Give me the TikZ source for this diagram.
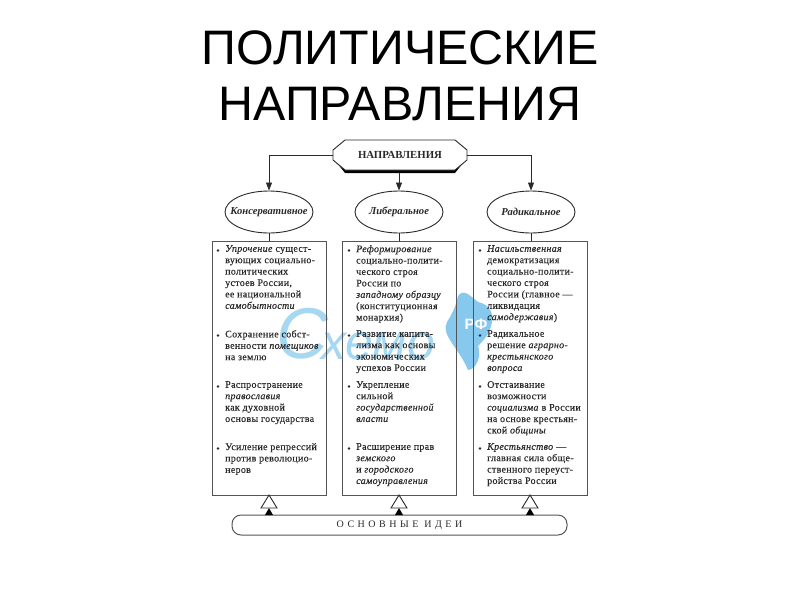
\documentclass[tikz,border=0pt]{standalone}
\usepackage{fontspec}
\setmainfont{Liberation Serif}
\newfontfamily\sansf{Liberation Sans}
\usetikzlibrary{arrows.meta,shapes.geometric,shadows}
\definecolor{ink}{HTML}{2A2A2A}
\definecolor{wm}{HTML}{A6D8F2}
\definecolor{wmblob}{HTML}{86C8EE}
\newcommand{\I}[1]{\textit{#1}}
\newcommand{\bt}[2]{\node[bulletdot] at (#1-7,#2+5.5) {};}
\newcommand{\ov}[1]{\makebox[0pt]{#1}}
\tikzset{
  lineT/.style={draw=ink,line width=0.9pt},
  conn/.style={draw=ink,line width=0.8pt},
  tip/.style={conn,-{Triangle[length=8pt,width=6pt,fill=ink]}},
  oval/.style={ellipse,draw=ink,line width=0.9pt,fill=white,minimum width=88pt,minimum height=42pt,inner sep=0pt,font=\fontsize{10.6}{12}\selectfont\bfseries\itshape,text=ink},
  panel/.style={draw=ink!80,line width=1pt,fill=none},
  itemtext/.style={anchor=north west,inner sep=0pt,align=left,text=ink,font=\fontsize{10}{11.4}\selectfont\addfontfeatures{LetterSpace=3,FakeBold=0.25}},
  bulletdot/.style={circle,fill=ink,inner sep=0pt,minimum size=2.6pt},
  hollow/.style={draw=ink,line width=0.9pt,fill=white,line join=miter},
  solidtri/.style={fill=black,draw=none},
}
\begin{document}
\begin{tikzpicture}[x=1pt,y=-1pt]
\useasboundingbox (0,0) rectangle (800,600);
\fill[white] (0,0) rectangle (800,600);
% title
\node[font=\sansf\fontsize{48.4}{56}\selectfont,align=center,text=black,inner sep=0pt] (title) at (400,76) {ПОЛИТИЧЕСКИЕ\\НАПРАВЛЕНИЯ};
% watermark
\node[font=\sansf\itshape\fontsize{72}{72}\selectfont,text=wm,inner sep=0pt] (wmc) at (302,334) {С};
\node[font=\sansf\itshape\fontsize{50}{50}\selectfont,text=wm,inner sep=0pt] (wmrest) at (378,346) {хемо};
\fill[wmblob] (447,322) .. controls (452,314) and (456,306) .. (458,296) .. controls (464,288) and (470,296) .. (478,302) .. controls (488,304) and (494,312) .. (492,322) .. controls (490,334) and (484,340) .. (478,346) .. controls (482,356) and (476,370) .. (468,370) .. controls (462,356) and (456,350) .. (450,340) .. controls (446,334) and (444,328) .. (447,322) -- cycle;
\node[font=\sansf\bfseries\fontsize{15}{15}\selectfont,text=white,inner sep=0pt] (wmrf) at (476,324) {РФ};
% header
\fill[black] (333,158) -- (345,173) -- (455,173) -- (467,158) -- cycle;
\draw[lineT,fill=white] (345,140) -- (455,140) -- (467,150) -- (467,160) -- (455,170) -- (345,170) -- (333,160) -- (333,150) -- cycle;
\coordinate (hl) at (333,155);
\coordinate (hr) at (467,155);
\coordinate (hb) at (399,173);
\node[font=\fontsize{10.8}{12}\selectfont\bfseries,text=ink,inner sep=0pt] (head) at (400,155) {НАПРАВЛЕНИЯ};
% ovals
\node[oval] (o1) at (269,212) {\ov{Консервативное}};
\node[oval] (o2) at (399,212) {\ov{Либеральное}};
\node[oval] (o3) at (531,212) {\ov{Радикальное}};
\draw[tip] (hl) -| (o1.north);
\draw[tip] (hb) -- (o2.north);
\draw[tip] (hr) -| (o3.north);
% panels
\node[panel,minimum width=114pt,minimum height=254pt,inner sep=0pt] (p1) at (269,368) {};
\node[panel,minimum width=114pt,minimum height=254pt,inner sep=0pt] (p2) at (399,368) {};
\node[panel,minimum width=114pt,minimum height=254pt,inner sep=0pt] (p3) at (530,368) {};
\draw[conn] (o1.south) -- (o1.south |- p1.north);
\draw[conn] (o2.south) -- (o2.south |- p2.north);
\draw[conn] (o3.south) -- (o3.south |- p3.north);
% left
\bt{225}{245}\node[itemtext] (a1) at (225,245) {\I{Упрочение} сущест-\\вующих социально-\\политических\\устоев России,\\ее национальной\\\I{самобытности}};
\bt{225}{330}\node[itemtext] (a2) at (225,330) {Сохранение собст-\\венности \I{помещиков}\\на землю};
\bt{225}{381}\node[itemtext] (a3) at (225,381) {Распространение\\\I{православия}\\как духовной\\основы государства};
\bt{225}{443}\node[itemtext] (a4) at (225,443) {Усиление репрессий\\против революцио-\\неров};
% middle
\bt{356}{245}\node[itemtext] (b1) at (356,245) {\I{Реформирование}\\социально-полити-\\ческого строя\\России по\\\I{западному образцу}\\(конституционная\\монархия)};
\bt{356}{330}\node[itemtext] (b2) at (356,330) {Развитие капита-\\лизма как основы\\экономических\\успехов России};
\bt{356}{381}\node[itemtext] (b3) at (356,381) {Укрепление\\сильной\\\I{государственной}\\\I{власти}};
\bt{356}{443}\node[itemtext] (b4) at (356,443) {Расширение прав\\\I{земского}\\и \I{городского}\\\I{самоуправления}};
% right
\bt{487}{245}\node[itemtext] (c1) at (487,245) {\I{Насильственная}\\демократизация\\социально-полити-\\ческого строя\\России (главное —\\ликвидация\\\I{самодержавия})};
\bt{487}{330}\node[itemtext] (c2) at (487,330) {Радикальное\\решение \I{аграрно-}\\\I{крестьянского}\\\I{вопроса}};
\bt{487}{381}\node[itemtext] (c3) at (487,381) {Отстаивание\\возможности\\\I{социализма} в России\\на основе крестьян-\\ской \I{общины}};
\bt{487}{443}\node[itemtext] (c4) at (487,443) {\I{Крестьянство} —\\главная сила обще-\\ственного переуст-\\ройства России};
% bottom bar
\node[draw=ink!80,line width=1pt,rounded corners=9pt,minimum width=335pt,minimum height=20pt,inner sep=0pt,text=ink,font=\fontsize{10}{11}\selectfont\addfontfeatures{LetterSpace=35}] (bar) at (399.5,525) {ОСНОВНЫЕ ИДЕИ};
% triangles
\foreach \n/\x in {p1/269,p2/399,p3/530}{
  \fill[solidtri] (\x-4,515) -- (\x,508) -- (\x+4,515) -- cycle;
  \draw[hollow] (\x,495) -- (\x+8,508) -- (\x-8,508) -- cycle;
}
\end{tikzpicture}
\end{document}
